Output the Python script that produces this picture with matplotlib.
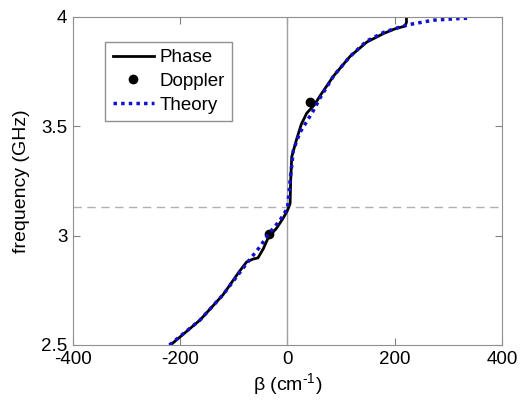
import matplotlib
matplotlib.use('Agg')
import matplotlib.pyplot as plt

# theory dispersion curve (beta in cm^-1, frequency in GHz)
theory_beta = [-220, -163, -120, -76, -51, -36, -14, 0, 5, 11, 23, 48, 61, 86,
               117, 148, 180, 210, 229, 272, 316, 335]
theory_freq = [2.50, 2.614, 2.73, 2.873, 2.95, 3.005, 3.07, 3.125, 3.25, 3.39,
               3.47, 3.57, 3.63, 3.73, 3.82, 3.89, 3.93, 3.954, 3.966, 3.985,
               3.992, 3.994]

# measured phase curve
phase_beta = [-218, -163, -120, -90, -76, -64, -55, -45, -36, -20, -8, 0, 5, 6,
              8, 17, 26, 36, 51, 61, 86, 117, 148, 180, 200, 219, 222, 222]
phase_freq = [2.50, 2.614, 2.73, 2.835, 2.88, 2.893, 2.898, 2.94, 2.99, 3.035,
              3.08, 3.115, 3.147, 3.25, 3.36, 3.44, 3.51, 3.56, 3.60, 3.64,
              3.73, 3.82, 3.885, 3.925, 3.945, 3.958, 3.975, 4.0]

# doppler measurements
doppler_beta = [-34, 43]
doppler_freq = [3.009, 3.61]

f_line = 3.133

plt.rcParams['font.family'] = ['Liberation Sans', 'DejaVu Sans']
plt.rcParams['mathtext.fontset'] = 'custom'
plt.rcParams['mathtext.rm'] = 'Liberation Sans'

fig = plt.figure(figsize=(5.25, 4.03), dpi=100)
ax = fig.add_axes([0.139, 0.144, 0.817, 0.814])

ax.axvline(0, color='#a0a0a0', linewidth=1)
ax.axhline(f_line, color='#b0b0b0', linewidth=1, linestyle=(0, (6, 4)))

ax.plot(phase_beta, phase_freq, color='black', linewidth=2, label='Phase')
ax.plot(doppler_beta, doppler_freq, 'o', color='black', markersize=6, label='Doppler')
ax.plot(theory_beta, theory_freq, color='#1010d0', linewidth=2.5,
        linestyle=(0, (1, 1.2)), label='Theory')

ax.set_xlim(-400, 400)
ax.set_ylim(2.5, 4)
ax.set_xticks([-400, -200, 0, 200, 400])
ax.set_yticks([2.5, 3, 3.5, 4])
ax.set_yticklabels(['2.5', '3', '3.5', '4'])
ax.set_xticklabels(['-400', '-200', '0', '200', '400'])
ax.tick_params(direction='in', top=True, right=True, labelsize=13.5,
               color='#808080', length=5)
ax.tick_params(axis='x', pad=4)
ax.tick_params(axis='y', pad=4)
for s in ax.spines.values():
    s.set_color('#909090')

ax.set_xlabel('\u03b2 (cm$^{\\text{-1}}$)', fontsize=14, labelpad=3)
ax.set_ylabel('frequency (GHz)', fontsize=14, labelpad=8)

leg = ax.legend(loc='upper left', bbox_to_anchor=(0.075, 0.925), fontsize=13.5,
                fancybox=False, edgecolor='#909090', handlelength=2.2,
                handletextpad=0.3, borderpad=0.4, labelspacing=0.35,
                borderaxespad=0, framealpha=1)
leg.get_frame().set_linewidth(1)

fig.savefig('out.png', dpi=100)
